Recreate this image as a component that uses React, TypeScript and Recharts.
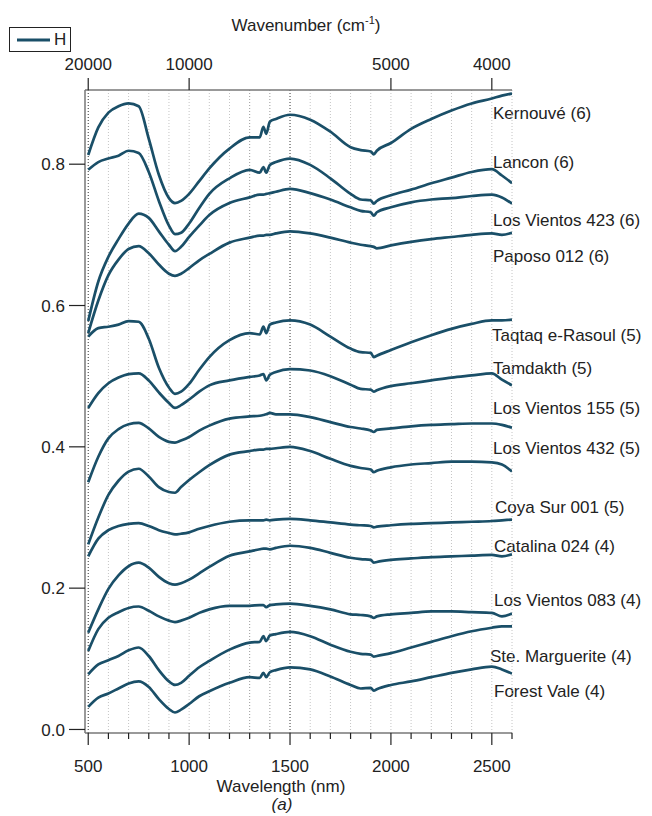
import React from "react";
import { LineChart, Line, XAxis, YAxis, ReferenceLine, Legend } from "recharts";

// wavelength grid (nm) shared by every spectrum
const wavelengths = [
  500, 550, 600, 650, 700, 750, 800, 850, 900, 930, 960, 1000, 1050, 1100, 1200, 1300, 1350, 1368, 1382,
  1400, 1430, 1500, 1600, 1700, 1800, 1850, 1900, 1915, 1930, 2000, 2100, 2200, 2300, 2400, 2500, 2550, 2600,
];

const kernouve = [
  0.813, 0.852, 0.873, 0.882, 0.886, 0.882, 0.836, 0.785, 0.752, 0.745, 0.748, 0.758, 0.776, 0.794, 0.822, 0.838,
  0.838, 0.853, 0.843, 0.86, 0.864, 0.87, 0.863, 0.846, 0.824, 0.82, 0.818, 0.814, 0.819, 0.83, 0.85, 0.864,
  0.876, 0.886, 0.893, 0.897, 0.9,
];
const lancon = [
  0.792, 0.803, 0.808, 0.812, 0.819, 0.816, 0.789, 0.748, 0.713, 0.701, 0.703, 0.716, 0.738, 0.758, 0.78, 0.792,
  0.788, 0.796, 0.788, 0.799, 0.803, 0.808, 0.799, 0.78, 0.758, 0.75, 0.749, 0.744, 0.748, 0.756, 0.764, 0.773,
  0.781, 0.789, 0.793, 0.784, 0.773,
];
const losVientos423 = [
  0.578, 0.634, 0.669, 0.694, 0.716, 0.73, 0.724, 0.705, 0.686, 0.677, 0.683, 0.697, 0.713, 0.728, 0.745, 0.753,
  0.757, 0.757, 0.758, 0.759, 0.761, 0.765, 0.759, 0.75, 0.739, 0.734, 0.732, 0.727, 0.732, 0.739, 0.746, 0.75,
  0.752, 0.755, 0.757, 0.753, 0.744,
];
const paposo012 = [
  0.561, 0.607, 0.643, 0.665, 0.68, 0.684, 0.674, 0.658, 0.645, 0.642, 0.645, 0.653, 0.664, 0.673, 0.689, 0.696,
  0.699, 0.699, 0.7, 0.7, 0.702, 0.705, 0.702, 0.696, 0.689, 0.686, 0.684, 0.683, 0.681, 0.685, 0.69, 0.694,
  0.697, 0.7, 0.702, 0.7, 0.703,
];
const taqtaq = [
  0.556, 0.568, 0.57, 0.573, 0.578, 0.577, 0.553, 0.512, 0.484, 0.475, 0.478, 0.489, 0.509, 0.527, 0.551, 0.561,
  0.559, 0.57, 0.561, 0.573, 0.576, 0.579, 0.573, 0.556, 0.539, 0.534, 0.533, 0.527, 0.529, 0.537, 0.548, 0.558,
  0.567, 0.574, 0.579, 0.579, 0.58,
];
const tamdakht = [
  0.455, 0.476, 0.49, 0.498, 0.503, 0.504, 0.494, 0.477, 0.462, 0.455, 0.459, 0.467, 0.478, 0.487, 0.494, 0.499,
  0.501, 0.503, 0.494, 0.502, 0.506, 0.51, 0.508, 0.5, 0.488, 0.482, 0.481, 0.478, 0.48, 0.486, 0.49, 0.494,
  0.498, 0.501, 0.504, 0.495, 0.487,
];
const losVientos155 = [
  0.35, 0.386, 0.412, 0.425, 0.432, 0.434, 0.426, 0.414, 0.407, 0.406, 0.409, 0.414, 0.423, 0.43, 0.44, 0.443,
  0.444, 0.445, 0.446, 0.448, 0.446, 0.446, 0.442, 0.435, 0.428, 0.426, 0.423, 0.421, 0.424, 0.426, 0.429, 0.431,
  0.432, 0.433, 0.433, 0.431, 0.427,
];
const losVientos432 = [
  0.262, 0.3, 0.332, 0.352, 0.365, 0.369, 0.358, 0.343, 0.336, 0.335, 0.343, 0.353, 0.364, 0.374, 0.389, 0.394,
  0.396, 0.396, 0.397, 0.397, 0.398, 0.4, 0.394, 0.383, 0.373, 0.37, 0.368, 0.364, 0.366, 0.371, 0.375, 0.377,
  0.379, 0.379, 0.378, 0.375, 0.365,
];
const coyaSur001 = [
  0.245, 0.27, 0.282, 0.288, 0.291, 0.292, 0.288, 0.282, 0.278, 0.276, 0.277, 0.279, 0.284, 0.288, 0.294, 0.296,
  0.296, 0.296, 0.297, 0.296, 0.297, 0.298, 0.296, 0.293, 0.29, 0.289, 0.288, 0.286, 0.287, 0.289, 0.291, 0.292,
  0.293, 0.294, 0.295, 0.296, 0.297,
];
const catalina024 = [
  0.137, 0.17, 0.199, 0.218, 0.231, 0.236, 0.229, 0.216, 0.207, 0.205, 0.207, 0.212, 0.221, 0.23, 0.246, 0.252,
  0.255, 0.256, 0.256, 0.255, 0.257, 0.26, 0.257, 0.25, 0.243, 0.241, 0.24, 0.236, 0.237, 0.24, 0.242, 0.244,
  0.245, 0.246, 0.247, 0.245, 0.248,
];
const losVientos083 = [
  0.111, 0.142, 0.158, 0.166, 0.172, 0.174, 0.168, 0.16, 0.154, 0.152, 0.154, 0.158, 0.165, 0.17, 0.175, 0.175,
  0.176, 0.176, 0.173, 0.176, 0.177, 0.178, 0.175, 0.17, 0.163, 0.162, 0.16, 0.158, 0.16, 0.163, 0.165, 0.167,
  0.167, 0.166, 0.165, 0.16, 0.164,
];
const steMarguerite = [
  0.078, 0.092, 0.098, 0.104, 0.112, 0.116, 0.104, 0.084, 0.068, 0.063, 0.066, 0.076, 0.088, 0.097, 0.113, 0.123,
  0.124, 0.132, 0.125, 0.133, 0.135, 0.138, 0.132, 0.12, 0.11, 0.107, 0.106, 0.103, 0.104, 0.108, 0.116, 0.124,
  0.132, 0.139, 0.144, 0.146, 0.146,
];
const forestVale = [
  0.032, 0.045, 0.051, 0.058, 0.065, 0.068, 0.06, 0.043, 0.029, 0.024, 0.028, 0.036, 0.047, 0.054, 0.066, 0.074,
  0.073, 0.08, 0.074, 0.081, 0.084, 0.088, 0.085, 0.075, 0.063, 0.058, 0.059, 0.055, 0.057, 0.063, 0.068, 0.074,
  0.08, 0.085, 0.089, 0.085, 0.079,
];

const sampleNames = [
  "Kernouvé (6)",
  "Lancon (6)",
  "Los Vientos 423 (6)",
  "Paposo 012 (6)",
  "Taqtaq e-Rasoul (5)",
  "Tamdakth (5)",
  "Los Vientos 155 (5)",
  "Los Vientos 432 (5)",
  "Coya Sur 001 (5)",
  "Catalina 024 (4)",
  "Los Vientos 083 (4)",
  "Ste. Marguerite (4)",
  "Forest Vale (4)",
];
const sampleSpectra = [
  kernouve, lancon, losVientos423, paposo012, taqtaq, tamdakht, losVientos155,
  losVientos432, coyaSur001, catalina024, losVientos083, steMarguerite, forestVale,
];

const legendName = "H";
const yTicks = [0, 0.2, 0.4, 0.6, 0.8];
const nmTicks = [
  500, 600, 700, 800, 900, 1000, 1100, 1200, 1300, 1400, 1500, 1600, 1700, 1800, 1900, 2000, 2100, 2200, 2300,
  2400, 2500, 2600,
];
const wavenumberTicks = [500, 1000, 2000, 2500];
const wavenumberLabels = ["20000", "10000", "5000", "4000"];

// where the sample names sit (pixels, right of the plot)
const nameLayout = [
  [493, 113], [493, 162], [493, 220], [493, 256], [492, 335], [493, 368], [493, 408],
  [493, 448], [495, 507], [494, 546], [494, 600], [490, 656], [494, 691],
];

const data = wavelengths.map((nm, i) => {
  const row: Record<string, number> = { nm };
  sampleSpectra.forEach((s, j) => {
    row["s" + j] = s[i];
  });
  return row;
});

const FONT = "'Liberation Sans', Arial, sans-serif";
const LINE = "#1a4f68";

const NmTick = (props: any) => {
  const { x, y, payload } = props;
  const major = payload.value % 500 === 0 && payload.value <= 2500;
  return (
    <g>
      <line x1={x} x2={x} y1={y} y2={y + (major ? 12 : 6)} stroke="#222" strokeWidth={1.2} />
      {major && (
        <text x={x} y={y + 39} textAnchor="middle" fontSize={17} fill="#222" fontFamily={FONT}>
          {payload.value}
        </text>
      )}
    </g>
  );
};

const renderLegend = () => (
  <div
    style={{
      border: "1px solid #222",
      width: 62,
      height: 25,
      boxSizing: "border-box",
      display: "flex",
      alignItems: "center",
      fontFamily: FONT,
      fontSize: 17,
      color: "#222",
      background: "#fff",
    }}
  >
    <svg width={44} height={20}>
      <line x1={7} x2={40} y1={10} y2={10} stroke={LINE} strokeWidth={3} />
    </svg>
    <span>{legendName}</span>
  </div>
);

export default function App() {
  return (
    <div style={{ position: "absolute", left: 0, top: 0 }}>
      <LineChart
        width={652}
        height={816}
        data={data}
        margin={{ top: 50, right: 140, bottom: 33, left: 25 }}
        style={{ fontFamily: FONT }}
      >
        {nmTicks.map((v) => (
          <ReferenceLine
            key={v}
            x={v}
            xAxisId="nm"
            stroke={v === 500 || v === 1500 ? "#333" : v === 1300 || v === 1400 ? "#999" : "#c4c4c4"}
            strokeDasharray="1 2"
            strokeWidth={1}
          />
        ))}
        <XAxis
          xAxisId="nm"
          dataKey="nm"
          type="number"
          domain={[484, 2600]}
          ticks={nmTicks}
          interval={0}
          height={50}
          tickSize={0}
          tickMargin={0}
          tickLine={false}
          tick={<NmTick />}
          axisLine={{ stroke: "#777", strokeWidth: 1.5 }}
          allowDataOverflow
        />
        <XAxis
          xAxisId="wn"
          orientation="top"
          dataKey="nm"
          type="number"
          domain={[484, 2600]}
          ticks={wavenumberTicks}
          interval={0}
          height={40}
          tickSize={12}
          tickMargin={8}
          tickFormatter={(v: number) => wavenumberLabels[wavenumberTicks.indexOf(v)]}
          tick={{ fontSize: 17, fill: "#222" }}
          tickLine={{ stroke: "#222", strokeWidth: 1.2 }}
          axisLine={{ stroke: "#777", strokeWidth: 1.5 }}
          allowDataOverflow
        />
        <YAxis
          type="number"
          domain={[-0.005, 0.905]}
          ticks={yTicks}
          width={60}
          tickSize={16}
          tickMargin={4}
          tickFormatter={(v: number) => v.toFixed(1)}
          tick={{ fontSize: 17, fill: "#222" }}
          tickLine={{ stroke: "#222", strokeWidth: 1.2 }}
          axisLine={{ stroke: "#777", strokeWidth: 1.5 }}
          allowDataOverflow
        />
        {sampleNames.map((name, j) => (
          <Line
            key={name}
            xAxisId="nm"
            dataKey={"s" + j}
            name={name}
            type="monotone"
            stroke={LINE}
            strokeWidth={2.7}
            dot={false}
            isAnimationActive={false}
          />
        ))}
        <Legend
          layout="vertical"
          align="center"
          verticalAlign="middle"
          wrapperStyle={{ top: 27, left: 9, width: "auto" }}
          content={renderLegend}
        />
        {sampleNames.map((name, j) => (
          <text
            key={"lbl" + j}
            x={nameLayout[j][0]}
            y={nameLayout[j][1] + 6}
            fontSize={17}
            fill="#222"
            fontFamily={FONT}
          >
            {name}
          </text>
        ))}
        <text x={306} y={31} textAnchor="middle" fontSize={17} fill="#222" fontFamily={FONT}>
          Wavenumber (cm
          <tspan dy={-7} fontSize={11}>-1</tspan>
          <tspan dy={7}>)</tspan>
        </text>
        <text x={281} y={792} textAnchor="middle" fontSize={17} fill="#222" fontFamily={FONT}>
          Wavelength (nm)
        </text>
        <text x={282} y={810} textAnchor="middle" fontSize={17} fontStyle="italic" fill="#222" fontFamily={FONT}>
          (a)
        </text>
      </LineChart>
    </div>
  );
}
